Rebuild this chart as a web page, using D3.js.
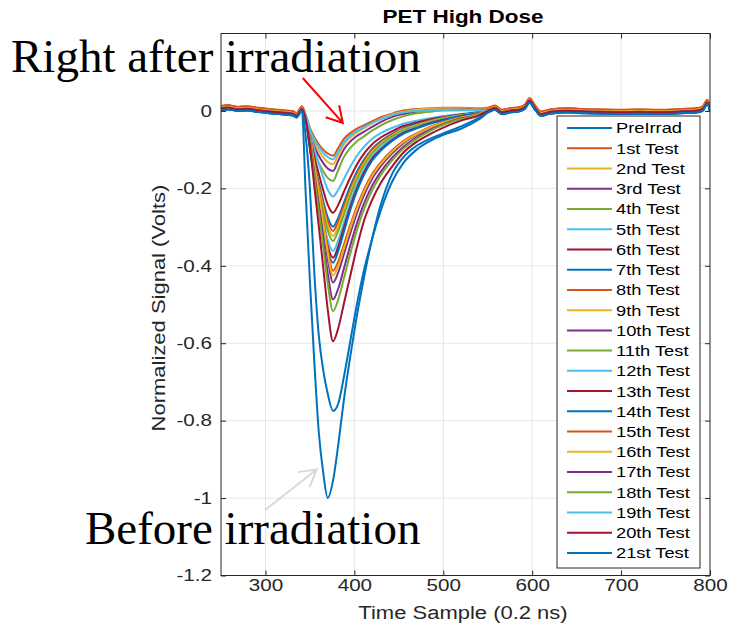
<!DOCTYPE html>
<html>
<head>
<meta charset="utf-8">
<script src="https://cdn.jsdelivr.net/npm/d3@7"></script>
<style>
  body { margin: 0; background: #fff; }
  text { font-family: "Liberation Sans", Arial, Helvetica, sans-serif; }
</style>
</head>
<body>
<script>
// ---- data ----
const seriesNames = ['PreIrrad', '1st Test', '2nd Test', '3rd Test', '4th Test', '5th Test', '6th Test',
  '7th Test', '8th Test', '9th Test', '10th Test', '11th Test', '12th Test', '13th Test', '14th Test',
  '15th Test', '16th Test', '17th Test', '18th Test', '19th Test', '20th Test', '21st Test'];
const lineColors = ['#0072BD', '#D95319', '#EDB120', '#7E2F8E', '#77AC30', '#4DBEEE', '#A2142F'];

const xTicks = [300, 400, 500, 600, 700, 800];
const xTickLabels = ['300', '400', '500', '600', '700', '800'];
const yTicks = [-1.2, -1, -0.8, -0.6, -0.4, -0.2, 0];
const yTickLabels = ['-1.2', '-1', '-0.8', '-0.6', '-0.4', '-0.2', '0'];

// baseline before the pulse (shared shape, shifted per series)
const preX = [250, 258, 268, 280, 292, 304, 315, 324, 331, 335, 338, 341];
const preY = [0.006, 0.008, 0.004, 0.005, 0.001, -0.002, -0.004, -0.006, -0.008, -0.013, -0.004, 0.005];
// baseline after the pulse
const postX = [552, 558, 566, 575, 586, 592, 597, 603, 610, 620, 640, 660, 680, 700, 720, 740, 760, 775, 785, 792, 797, 800];
const postY = [0.002, 0.007, -0.004, 0.0, 0.003, 0.010, 0.026, 0.008, -0.009, -0.003, 0.0, -0.002, -0.003, -0.004, -0.003, -0.004, -0.003, -0.001, 0.0, 0.005, 0.022, 0.002];
const baseOffset = [-0.004, 0.007, 0.004, 0.002, 0.0, -0.002, 0.0, -0.003, 0.006, 0.004, 0.002, 0.0, -0.002, 0.001,
  -0.003, 0.006, 0.003, 0.001, -0.001, -0.002, 0.0, -0.004];

// the pulse itself, one row per series
const pulseX = [345, 350, 355, 360, 365, 370, 376, 382, 388, 395, 402, 410, 420, 430, 442, 455, 470, 485, 500, 520, 540];
const pulsePre = [-0.200, -0.440, -0.650, -0.830, -0.935, -1.000, -0.955, -0.860, -0.750, -0.640, -0.540, -0.440, -0.330, -0.240, -0.165, -0.120, -0.090, -0.072, -0.058, -0.040, -0.018];
const pulse01 = [-0.008, -0.044, -0.068, -0.086, -0.100, -0.110, -0.116, -0.095, -0.073, -0.058, -0.047, -0.038, -0.027, -0.016, -0.007, 0.001, 0.005, 0.007, 0.008, 0.008, 0.007];
const pulse02 = [-0.010, -0.052, -0.081, -0.103, -0.119, -0.132, -0.138, -0.113, -0.088, -0.070, -0.057, -0.046, -0.032, -0.020, -0.009, -0.002, 0.003, 0.006, 0.007, 0.007, 0.006];
const pulse03 = [-0.014, -0.060, -0.092, -0.116, -0.135, -0.149, -0.155, -0.128, -0.100, -0.080, -0.066, -0.055, -0.041, -0.028, -0.016, -0.008, -0.002, 0.002, 0.003, 0.004, 0.003];
const pulse04 = [-0.016, -0.068, -0.105, -0.134, -0.156, -0.173, -0.181, -0.152, -0.120, -0.097, -0.080, -0.067, -0.051, -0.037, -0.024, -0.014, -0.006, -0.002, 0.001, 0.002, 0.001];
const pulse05 = [-0.011, -0.055, -0.099, -0.137, -0.172, -0.203, -0.221, -0.203, -0.177, -0.146, -0.119, -0.095, -0.072, -0.057, -0.044, -0.033, -0.025, -0.019, -0.013, -0.008, -0.003];
const pulse06 = [-0.013, -0.066, -0.118, -0.163, -0.205, -0.242, -0.263, -0.242, -0.210, -0.174, -0.142, -0.113, -0.086, -0.068, -0.053, -0.039, -0.030, -0.022, -0.016, -0.009, -0.004];
const pulse07 = [-0.015, -0.075, -0.135, -0.185, -0.233, -0.275, -0.299, -0.275, -0.239, -0.197, -0.161, -0.129, -0.098, -0.078, -0.060, -0.045, -0.034, -0.025, -0.018, -0.010, -0.004];
const pulse08 = [-0.016, -0.078, -0.140, -0.192, -0.242, -0.285, -0.310, -0.285, -0.248, -0.205, -0.167, -0.133, -0.101, -0.081, -0.062, -0.047, -0.036, -0.026, -0.019, -0.011, -0.005];
const pulse09 = [-0.016, -0.081, -0.145, -0.200, -0.252, -0.297, -0.323, -0.297, -0.258, -0.213, -0.174, -0.139, -0.106, -0.084, -0.065, -0.048, -0.037, -0.027, -0.019, -0.011, -0.005];
const pulse10 = [-0.013, -0.066, -0.146, -0.222, -0.301, -0.381, -0.443, -0.416, -0.372, -0.319, -0.270, -0.222, -0.175, -0.142, -0.111, -0.084, -0.062, -0.044, -0.031, -0.018, -0.009];
const pulse11 = [-0.017, -0.084, -0.151, -0.208, -0.262, -0.309, -0.336, -0.309, -0.269, -0.222, -0.181, -0.144, -0.110, -0.087, -0.067, -0.050, -0.039, -0.029, -0.020, -0.012, -0.005];
const pulse12 = [-0.018, -0.091, -0.163, -0.224, -0.282, -0.333, -0.362, -0.333, -0.290, -0.239, -0.195, -0.156, -0.118, -0.094, -0.072, -0.054, -0.042, -0.031, -0.022, -0.013, -0.005];
const pulse13 = [-0.019, -0.095, -0.171, -0.235, -0.296, -0.349, -0.379, -0.349, -0.303, -0.250, -0.205, -0.163, -0.123, -0.099, -0.076, -0.057, -0.044, -0.032, -0.023, -0.013, -0.006];
const pulse14 = [-0.020, -0.098, -0.176, -0.243, -0.306, -0.361, -0.392, -0.361, -0.314, -0.259, -0.212, -0.169, -0.128, -0.102, -0.078, -0.059, -0.045, -0.033, -0.024, -0.014, -0.006];
const pulse15 = [-0.012, -0.062, -0.136, -0.207, -0.281, -0.355, -0.413, -0.388, -0.347, -0.297, -0.252, -0.207, -0.163, -0.132, -0.103, -0.078, -0.058, -0.041, -0.029, -0.017, -0.008];
const pulse16 = [-0.013, -0.064, -0.140, -0.213, -0.289, -0.366, -0.425, -0.400, -0.357, -0.306, -0.259, -0.213, -0.168, -0.136, -0.106, -0.081, -0.060, -0.043, -0.030, -0.017, -0.008];
const pulse17 = [-0.015, -0.073, -0.161, -0.244, -0.331, -0.419, -0.487, -0.458, -0.409, -0.351, -0.297, -0.244, -0.193, -0.156, -0.122, -0.093, -0.068, -0.049, -0.034, -0.019, -0.010];
const pulse18 = [-0.016, -0.078, -0.171, -0.259, -0.352, -0.445, -0.517, -0.486, -0.434, -0.372, -0.315, -0.259, -0.205, -0.165, -0.129, -0.098, -0.072, -0.052, -0.036, -0.021, -0.010];
const pulse19 = [-0.010, -0.048, -0.074, -0.093, -0.108, -0.119, -0.125, -0.104, -0.082, -0.065, -0.053, -0.043, -0.031, -0.021, -0.011, -0.004, 0.000, 0.002, 0.003, 0.003, 0.002];
const pulse20 = [-0.018, -0.090, -0.196, -0.298, -0.405, -0.512, -0.595, -0.560, -0.500, -0.430, -0.360, -0.290, -0.230, -0.185, -0.145, -0.108, -0.080, -0.060, -0.043, -0.025, -0.012];
const pulse21 = [-0.060, -0.200, -0.420, -0.580, -0.670, -0.730, -0.775, -0.755, -0.690, -0.600, -0.510, -0.420, -0.330, -0.255, -0.185, -0.135, -0.100, -0.078, -0.062, -0.046, -0.022];
const pulseY = [pulsePre, pulse01, pulse02, pulse03, pulse04, pulse05, pulse06, pulse07, pulse08, pulse09, pulse10,
  pulse11, pulse12, pulse13, pulse14, pulse15, pulse16, pulse17, pulse18, pulse19, pulse20, pulse21];

// annotation arrows in data units: [start, tip]
const redArrow = [[342, 0.085], [387, -0.031]];
const grayArrow = [[299.5, -1.031], [357.6, -0.926]];

// ---- drawing ----
const width = 729, height = 630;
const ink = '#262626';
const stretch = 1.25; // the figure's text is rendered wider than Arial

const svg = d3.select('body').append('svg')
    .attr('width', width)
    .attr('height', height);

const x = d3.scaleLinear().domain([250, 800]).range([221, 710]);
const y = d3.scaleLinear().domain([-1.2, 0.2]).range([575.5, 33.5]);

const color = d3.scaleOrdinal()
    .domain(seriesNames)
    .range(lineColors);

// grid
const grid = svg.append('g').attr('stroke', '#e6e6e6').attr('stroke-width', 1);
grid.selectAll('.gx')
    .data(xTicks.filter(d => d < 800))
    .join('line')
    .attr('x1', d => x(d)).attr('x2', d => x(d))
    .attr('y1', y(-1.2)).attr('y2', y(0.2));
grid.selectAll('.gy')
    .data(yTicks.filter(d => d > -1.2))
    .join('line')
    .attr('x1', x(250)).attr('x2', x(800))
    .attr('y1', d => y(d)).attr('y2', d => y(d));

// clip for the traces
svg.append('clipPath').attr('id', 'plot-clip')
    .append('rect')
    .attr('x', x(250)).attr('y', y(0.2))
    .attr('width', x(800) - x(250))
    .attr('height', y(-1.2) - y(0.2));

const series = seriesNames.map((name, i) => ({
    name,
    values: [
        ...preX.map((v, j) => [v, preY[j] + baseOffset[i]]),
        ...pulseX.map((v, j) => [v, pulseY[i][j]]),
        ...postX.map((v, j) => [v, postY[j] + baseOffset[i]])
    ]
}));

const line = d3.line()
    .x(d => x(d[0]))
    .y(d => y(d[1]))
    .curve(d3.curveMonotoneX);

svg.append('g')
    .attr('clip-path', 'url(#plot-clip)')
    .selectAll('path')
    .data(series)
    .join('path')
    .attr('fill', 'none')
    .attr('stroke', d => color(d.name))
    .attr('stroke-width', 2)
    .attr('stroke-linejoin', 'round')
    .attr('d', d => line(d.values));

// axes (MATLAB style: inward ticks on all four sides)
function styleAxis(g) {
    g.attr('font-size', null).attr('font-family', null);
    g.select('.domain').remove();
    g.selectAll('line').attr('stroke', ink);
}

const xAxis = svg.append('g')
    .attr('transform', `translate(0,${y(-1.2)})`)
    .call(d3.axisBottom(x).tickValues(xTicks).tickSize(-5).tickFormat((d, i) => xTickLabels[i]))
    .call(styleAxis);
xAxis.selectAll('text')
    .attr('y', null).attr('dy', null)
    .attr('fill', ink)
    .style('font-size', '16.5px')
    .attr('transform', `translate(0,15) scale(${stretch},1)`);

svg.append('g')
    .attr('transform', `translate(0,${y(0.2)})`)
    .call(d3.axisTop(x).tickValues(xTicks).tickSize(-5).tickFormat(''))
    .call(styleAxis);

const yAxis = svg.append('g')
    .attr('transform', `translate(${x(250)},0)`)
    .call(d3.axisLeft(y).tickValues(yTicks).tickSize(-5).tickFormat((d, i) => yTickLabels[i]))
    .call(styleAxis);
yAxis.selectAll('text')
    .attr('x', null)
    .attr('fill', ink)
    .style('font-size', '16.5px')
    .attr('transform', `translate(-9,0) scale(${stretch},1)`);

svg.append('g')
    .attr('transform', `translate(${x(800)},0)`)
    .call(d3.axisRight(y).tickValues(yTicks).tickSize(-5).tickFormat(''))
    .call(styleAxis);

// box
svg.append('rect')
    .attr('x', x(250)).attr('y', y(0.2))
    .attr('width', x(800) - x(250))
    .attr('height', y(-1.2) - y(0.2))
    .attr('fill', 'none')
    .attr('stroke', ink)
    .attr('stroke-width', 1);

// title and labels
svg.append('text')
    .attr('transform', `translate(463,23) scale(${stretch},1)`)
    .attr('text-anchor', 'middle')
    .style('font-size', '18px')
    .style('font-weight', 'bold')
    .attr('fill', '#000')
    .text('PET High Dose');

svg.append('text')
    .attr('transform', `translate(463,619) scale(${stretch},1)`)
    .attr('text-anchor', 'middle')
    .style('font-size', '17.6px')
    .attr('fill', ink)
    .text('Time Sample (0.2 ns)');

svg.append('text')
    .attr('transform', `translate(165,308) rotate(-90) scale(${stretch},1)`)
    .attr('text-anchor', 'middle')
    .style('font-size', '17.6px')
    .attr('fill', ink)
    .text('Normalized Signal (Volts)');

// legend
const legendY = d3.scalePoint().domain(seriesNames).range([128, 553]);
const legend = svg.append('g');
legend.append('rect')
    .attr('x', 557).attr('y', 116)
    .attr('width', 143).attr('height', 452)
    .attr('fill', '#fff')
    .attr('stroke', ink)
    .attr('stroke-width', 1);

const legendItems = legend.selectAll('.legend-item')
    .data(seriesNames)
    .join('g')
    .attr('class', 'legend-item')
    .attr('transform', d => `translate(0,${legendY(d)})`);

legendItems.append('line')
    .attr('x1', 567).attr('x2', 612)
    .attr('stroke', d => color(d))
    .attr('stroke-width', 2);

legendItems.append('text')
    .attr('transform', 'translate(616,0) scale(1.18,1)')
    .attr('dy', '0.35em')
    .style('font-size', '15.5px')
    .attr('fill', '#000')
    .text(d => d);

// annotations
function drawArrow(pts, stroke, head) {
    const [x0, y0] = [x(pts[0][0]), y(pts[0][1])];
    const [x1, y1] = [x(pts[1][0]), y(pts[1][1])];
    const a = Math.atan2(y1 - y0, x1 - x0);
    const w = Math.PI / 6;
    const p = d3.path();
    p.moveTo(x0, y0);
    p.lineTo(x1, y1);
    p.moveTo(x1 - head * Math.cos(a - w), y1 - head * Math.sin(a - w));
    p.lineTo(x1, y1);
    p.lineTo(x1 - head * Math.cos(a + w), y1 - head * Math.sin(a + w));
    svg.append('path')
        .attr('d', p.toString())
        .attr('fill', 'none')
        .attr('stroke', stroke)
        .attr('stroke-width', 2);
}
drawArrow(redArrow, '#ff0000', 18);
drawArrow(grayArrow, '#d9d9d9', 19);

svg.append('text')
    .attr('x', 11).attr('y', 72)
    .style('font-family', '"Liberation Serif", "Times New Roman", serif')
    .style('font-size', '47px')
    .attr('fill', '#000')
    .text('Right after irradiation');

svg.append('text')
    .attr('x', 85).attr('y', 544)
    .style('font-family', '"Liberation Serif", "Times New Roman", serif')
    .style('font-size', '47px')
    .attr('fill', '#000')
    .text('Before irradiation');
</script>
</body>
</html>
